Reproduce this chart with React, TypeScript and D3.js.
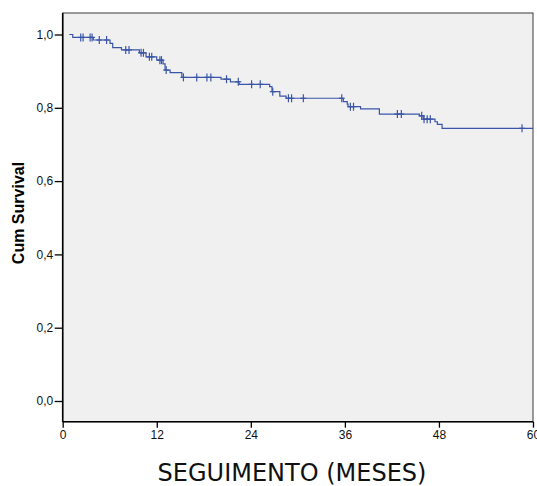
import { useEffect, useRef } from 'react'
import * as d3 from 'd3'

// Kaplan-Meier step points (months, cumulative survival)
const startTime = 0.84
const endTime = 60
const eventTimes = [1.28, 3.9, 6.04, 6.38, 7.5, 9.78, 10.63, 12.0, 12.8, 13.06, 13.7, 15.2, 20.2, 21.4, 22.5, 26.4, 26.7, 27.7, 28.5, 35.8, 36.3, 36.4, 38.0, 40.4, 45.5, 46.0, 47.5, 47.8, 48.4]
const survival = [0.992, 0.985, 0.976, 0.964, 0.958, 0.950, 0.939, 0.930, 0.920, 0.903, 0.896, 0.883, 0.878, 0.871, 0.864, 0.858, 0.844, 0.832, 0.826, 0.817, 0.810, 0.803, 0.797, 0.783, 0.778, 0.769, 0.762, 0.755, 0.744]
const censorTimes = [2.3, 2.6, 3.5, 3.75, 4.67, 5.6, 8.04, 8.46, 10.0, 10.3, 11.06, 11.36, 12.4, 12.6, 13.2, 15.4, 17.1, 18.4, 18.9, 20.9, 22.4, 24.1, 25.2, 26.8, 28.8, 29.2, 30.7, 35.6, 36.7, 37.1, 42.7, 43.2, 45.8, 46.1, 46.5, 46.9, 58.6]
const xTicks = [0, 12, 24, 36, 48, 60]
const yTicks = [0, 0.2, 0.4, 0.6, 0.8, 1.0]

const W = 537
const H = 486

export default function App() {
  const svgRef = useRef<SVGSVGElement>(null)

  useEffect(() => {
    if (!svgRef.current) return
    const svg = d3.select(svgRef.current)
    svg.selectAll('*').remove()

    const left = 62.7, right = 533, top = 13, bottom = 421.7
    const x = d3.scaleLinear().domain([0, 60]).range([left, right])
    // 1,0 sits at y=34.5 and 0,0 at y=401; the frame runs a bit past both
    const y = d3.scaleLinear().domain([0, 1]).range([401, 34.5])

    const blue = '#3a55a8'
    const font = '"Liberation Sans", Arial, sans-serif'

    svg.append('rect')
      .attr('x', left).attr('y', top)
      .attr('width', right - left).attr('height', bottom - top)
      .attr('fill', '#f0f0f0')
      .attr('stroke', '#3a3a3a')
      .attr('stroke-width', 1)

    // survival curve
    const pts: [number, number][] = [[startTime, 1]]
    eventTimes.forEach((t, i) => pts.push([t, survival[i]]))
    pts.push([endTime, survival[survival.length - 1]])
    const line = d3.line<[number, number]>()
      .x(d => x(d[0]))
      .y(d => y(d[1]))
      .curve(d3.curveStepAfter)
    svg.append('path')
      .attr('d', line(pts))
      .attr('fill', 'none')
      .attr('stroke', blue)
      .attr('stroke-width', 1.2)

    const survAt = (t: number) => {
      let s = 1
      eventTimes.forEach((e, i) => { if (e <= t) s = survival[i] })
      return s
    }

    const marks = svg.append('g')
      .attr('stroke', blue)
      .attr('stroke-width', 1.2)
    censorTimes.forEach(t => {
      const cx = x(t), cy = y(survAt(t))
      marks.append('line').attr('x1', cx).attr('x2', cx).attr('y1', cy - 4).attr('y2', cy + 4)
      marks.append('line').attr('x1', cx - 3).attr('x2', cx + 3).attr('y1', cy).attr('y2', cy)
    })

    // axes
    const yAxis = svg.append('g')
      .attr('transform', `translate(${left},0)`)
      .call(d3.axisLeft(y).tickValues(yTicks).tickSize(8).tickPadding(1.5)
        .tickFormat(d => d3.format('.1f')(d as number).replace('.', ',')))
    yAxis.select('.domain').remove()
    yAxis.selectAll('line').attr('stroke', '#000').attr('stroke-width', 1.3)
    yAxis.selectAll('text').attr('font-family', font).attr('font-size', 12).attr('fill', '#111')

    const xAxis = svg.append('g')
      .attr('transform', `translate(0,${bottom})`)
      .call(d3.axisBottom(x).tickValues(xTicks).tickSize(6).tickPadding(3).tickFormat(d3.format('d')))
    xAxis.select('.domain').remove()
    xAxis.selectAll('line').attr('stroke', '#000').attr('stroke-width', 1.3)
    xAxis.selectAll('text').attr('font-family', font).attr('font-size', 12).attr('fill', '#111')

    svg.append('line')
      .attr('x1', left).attr('x2', left).attr('y1', top).attr('y2', bottom)
      .attr('stroke', '#000').attr('stroke-width', 1.6)
    svg.append('line')
      .attr('x1', left).attr('x2', right).attr('y1', bottom).attr('y2', bottom)
      .attr('stroke', '#000').attr('stroke-width', 1.6)

    // titles
    svg.append('text')
      .attr('transform', `translate(24,${(158 + 268) / 2}) rotate(-90)`)
      .attr('text-anchor', 'middle')
      .attr('font-family', font)
      .attr('font-weight', 'bold')
      .attr('font-size', 16)
      .attr('fill', '#000')
      .text('Cum Survival')

    svg.append('text')
      .attr('x', 292)
      .attr('y', 481)
      .attr('text-anchor', 'middle')
      .attr('font-family', '"DejaVu Sans", sans-serif')
      .attr('font-size', 24)
      .attr('fill', '#111')
      .text('SEGUIMENTO (MESES)')
  }, [])

  return (
    <svg ref={svgRef} width={W} height={H}
      style={{ position: 'absolute', left: 0, top: 0, background: '#fff' }} />
  )
}
